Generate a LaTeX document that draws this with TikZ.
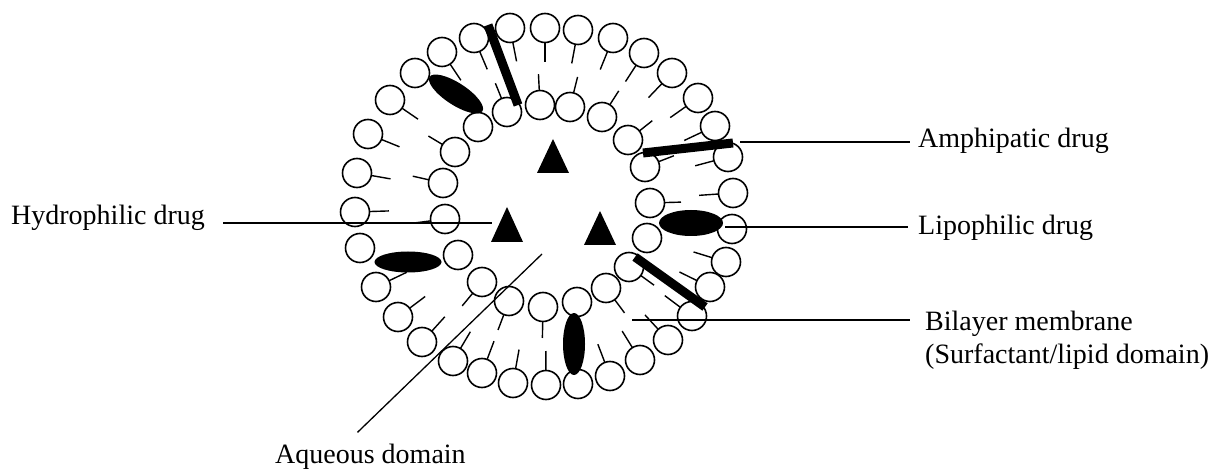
\documentclass[tikz,border=0pt]{standalone}
\usepackage{fontspec}
\setmainfont{Liberation Serif}
\usetikzlibrary{calc,shapes.geometric}

\tikzset{
  head/.style={draw=black, fill=white, line width=1.6pt},
  tail/.style={line width=1.4pt},
  drugbar/.style={line width=9pt, line cap=butt},
  lipo/.style={ellipse, fill=black, inner sep=0pt},
  leader/.style={line width=1.3pt},
  lbl/.style={font=\fontsize{28}{33}\selectfont, inner sep=0pt, anchor=base west},
}

\begin{document}
\begin{tikzpicture}[x=1pt,y=-1pt]
\useasboundingbox (0,0) rectangle (1212,470);
\coordinate (ctr) at (545,206);

% tails of the outer leaflet, pointing inwards
\foreach \x/\y in {510/28,545/28,578/30,613/38,644/53,672/73,698/98,715/126,
  728/157,733/193,726/262,710/287,692/316,668/340,640/360,610/376,
  546/385,513/383,482/373,453/361,422/342,398/317,376/287,
  355/212,357/173,368/134,390/100,442/52,474/38}
  \draw[tail] ($(\x,\y)!14.5pt!(ctr)$) -- ($(\x,\y)!34pt!(ctr)$);

% tails of the inner leaflet, pointing outwards
\foreach \x/\y in {507/112,540/105,570/107,602/117,628/140,645/167,650/203,
  629/267,606/288,543/307,509/301,482/282,445/219,443/183,455/152}
  \draw[tail] ($(\x,\y)!-14.5pt!(ctr)$) -- ($(\x,\y)!-31pt!(ctr)$);

% polar heads, outer leaflet
\foreach \x/\y in {510/28,545/28,578/30,613/38,644/53,672/73,698/98,715/126,
  728/157,733/193,732/229,726/262,710/287,692/316,668/340,640/360,610/376,
  578/384,546/385,513/383,482/373,453/361,422/342,398/317,376/287,360/248,
  355/212,357/173,368/134,390/100,415/73,442/52,474/38}
  \draw[head] (\x,\y) circle[radius=14.5pt];

% polar heads, inner leaflet
\foreach \x/\y in {507/112,540/105,570/107,602/117,628/140,645/167,650/203,
  647/238,629/267,606/288,577/302,543/307,509/301,482/282,458/255,445/219,
  443/183,455/152,478/127}
  \draw[head] (\x,\y) circle[radius=14.5pt];

% amphipathic drug molecules
\draw[drugbar] (488,25) -- (518,105);
\draw[drugbar] (643,153) -- (733,143);
\draw[drugbar] (635,257) -- (705,307);

% lipophilic drug molecules
\node[lipo, minimum width=63pt, minimum height=22pt, rotate=-33] (lipoTL) at (456,94) {};
\node[lipo, minimum width=67pt, minimum height=21pt] (lipoL) at (408,262) {};
\node[lipo, minimum width=64pt, minimum height=26pt] (lipoR) at (691,223) {};
\node[lipo, minimum width=22pt, minimum height=62pt] (lipoB) at (574,344) {};

% hydrophilic drug molecules in the aqueous core
\fill (553,139) -- (537,173) -- (569,173) -- cycle;
\fill (507,207) -- (491,242) -- (523,242) -- cycle;
\fill (600,211) -- (584,245) -- (616,245) -- cycle;

% labels
\node[lbl] (hyd) at (11,225) {Hydrophilic drug};
\node[lbl] (amph) at (918,148) {Amphipatic drug};
\node[lbl] (lip) at (918,235) {Lipophilic drug};
\node[lbl] (bil) at (925,330) {Bilayer membrane};
\node[lbl] (bil2) at (925,363) {(Surfactant/lipid domain)};
\node[lbl] (aq) at (275,463) {Aqueous domain};

% leader lines
\coordinate (hydtip) at (492,223);
\coordinate (amphtip) at (740,142);
\coordinate (liptip) at (725,227);
\coordinate (biltip) at (632,320);
\coordinate (aqtip) at (542,254);
\draw[leader] ($(hyd.east |- hydtip)+(18,0)$) -- (hydtip);
\draw[leader] (amphtip) -- ($(amphtip -| amph.west)+(-8,0)$);
\draw[leader] (liptip) -- ($(liptip -| lip.west)+(-10,0)$);
\draw[leader] (biltip) -- ($(biltip -| bil.west)+(-15,0)$);
\draw[leader] (aqtip) -- ($(aq.north)+(-13,-11)$);
\end{tikzpicture}
\end{document}
